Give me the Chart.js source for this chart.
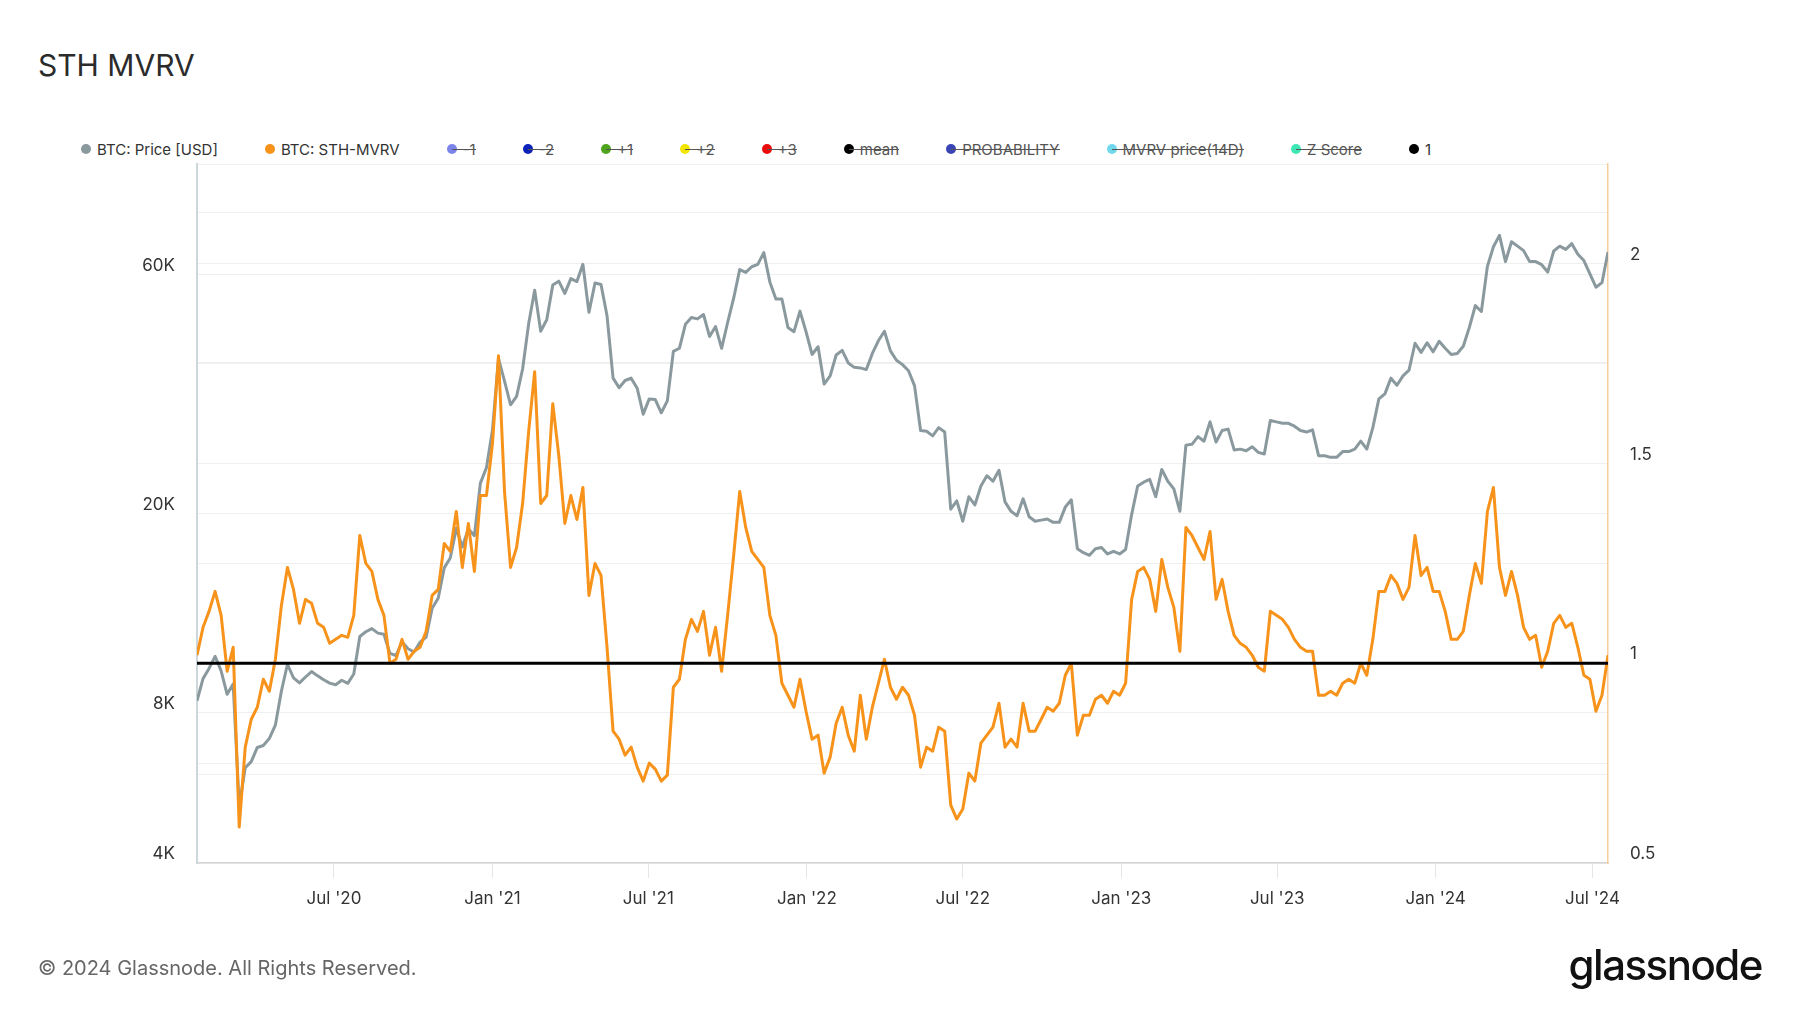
<!DOCTYPE html>
<html>
<head>
<meta charset="utf-8">
<script src="https://cdn.jsdelivr.net/npm/chart.js@4.4.1/dist/chart.umd.min.js"></script>
<style>
  html, body { margin: 0; padding: 0; background: #fff; }
  body { width: 1800px; height: 1013px; position: relative; overflow: hidden; font-family: Inter, 'Noto Sans', sans-serif; }
  #chart { position: absolute; left: 0; top: 0; }
  .title { position: absolute; left: 38px; top: 46px; font-size: 30px; line-height: 38px; color: #2b2b2b; }
  .legend { position: absolute; left: 81px; top: 139px; height: 20px; display: flex; align-items: center; font-size: 15px; color: #333; }
  .item { position: relative; display: flex; align-items: center; margin-right: 47px; white-space: nowrap; }
  .dot { width: 10px; height: 10px; border-radius: 50%; margin-right: 6px; }
  .off { color: #555; }
  .strike { position: absolute; left: 5px; right: 0; top: 50%; height: 1px; background: #555; }
  .footer { position: absolute; left: 38px; top: 955px; font-size: 20px; line-height: 26px; color: #666; }
  .logo { position: absolute; right: 38px; top: 941px; font-size: 42px; line-height: 48px; font-weight: 500; letter-spacing: -1.5px; color: #111; }
</style>
</head>
<body>
<div class="title">STH MVRV</div>
<div class="legend" id="legend"></div>
<canvas id="chart" width="1800" height="1013"></canvas>
<div class="footer">© 2024 Glassnode. All Rights Reserved.</div>
<div class="logo">glassnode</div>
<script>
// weekly samples, first one on 2020-01-24
const startDate = '2020-01-24';
const stepDays = 7;

const price = [
  8440, 9350, 9800, 10360, 9690, 8700, 9120, 5200, 6200, 6380,
  6810, 6870, 7100, 7550, 8830, 9990, 9380, 9170, 9420, 9660,
  9470, 9300, 9160, 9090, 9280, 9150, 9550, 11350, 11600, 11770,
  11530, 11470, 10500, 10400, 11080, 10730, 10570, 11060, 11320, 12930,
  13540, 15570, 16290, 18680, 17140, 18650, 18060, 23000, 24700, 29370,
  40800, 36800, 33000, 34300, 38900, 47900, 55900, 46300, 48800, 57300,
  58300, 55100, 59000, 58200, 63000, 50500, 57800, 57400, 49700, 37300,
  35700, 36900, 37300, 35600, 31600, 33900, 33800, 31800, 33600, 42200,
  42800, 47800, 49300, 49000, 50000, 45200, 47300, 42800, 48200, 53900,
  61500, 60700, 62300, 63000, 66500, 58100, 53700, 53700, 47100, 46200,
  50800, 46200, 41600, 43100, 36300, 37700, 41500, 42400, 40000, 39200,
  39100, 38800, 41800, 44300, 46300, 42300, 40500, 39700, 38600, 36000,
  29300, 29200, 28600, 29700, 29100, 20400, 21200, 19300, 21600, 20800,
  22700, 23800, 23200, 24400, 21100, 20200, 19800, 21400, 19700, 19300,
  19400, 19500, 19200, 19200, 20600, 21300, 17000, 16700, 16500, 17000,
  17100, 16600, 16800, 16600, 16950, 19900, 22700, 23100, 23400, 21600,
  24500, 23200, 22400, 20200, 27400, 27500, 28500, 27900, 30500, 27800,
  29300, 29500, 26800, 26900, 26700, 27200, 26500, 26300, 30700, 30500,
  30300, 30300, 29900, 29300, 29100, 29400, 26100, 26100, 25900, 25900,
  26600, 26600, 26900, 27900, 26900, 29700, 33900, 34700, 37300, 36100,
  37700, 38700, 43800, 42000, 43900, 42100, 44200, 42800, 41600, 41800,
  43200, 47100, 52100, 50700, 62400, 68300, 72000, 63800, 69900, 68500,
  67100, 63800, 63800, 62900, 60800, 67000, 68500, 67500, 69300, 66000,
  64100, 60300, 56700, 57900, 66700
];

const sthMvrv = [
  1.02, 1.09, 1.13, 1.18, 1.12, 0.98, 1.04, 0.59, 0.79, 0.86,
  0.89, 0.96, 0.93, 1.01, 1.145, 1.24, 1.185, 1.10, 1.16, 1.15,
  1.10, 1.09, 1.05, 1.06, 1.07, 1.065, 1.12, 1.32, 1.25, 1.23,
  1.16, 1.12, 1.00, 1.01, 1.06, 1.01, 1.03, 1.04, 1.08, 1.17,
  1.185, 1.30, 1.28, 1.38, 1.24, 1.35, 1.23, 1.42, 1.42, 1.55,
  1.77, 1.43, 1.24, 1.29, 1.40, 1.58, 1.73, 1.40, 1.42, 1.65,
  1.52, 1.35, 1.42, 1.36, 1.44, 1.17, 1.25, 1.22, 1.04, 0.83,
  0.81, 0.77, 0.79, 0.74, 0.705, 0.75, 0.735, 0.705, 0.72, 0.94,
  0.96, 1.06, 1.11, 1.08, 1.13, 1.02, 1.09, 0.98, 1.12, 1.27,
  1.43, 1.34, 1.28, 1.26, 1.24, 1.12, 1.07, 0.95, 0.92, 0.89,
  0.96, 0.88, 0.81, 0.82, 0.725, 0.765, 0.85, 0.89, 0.82, 0.78,
  0.92, 0.81, 0.89, 0.95, 1.01, 0.94, 0.91, 0.94, 0.92, 0.87,
  0.74, 0.79, 0.78, 0.84, 0.83, 0.645, 0.61, 0.635, 0.725, 0.705,
  0.80, 0.82, 0.84, 0.90, 0.79, 0.81, 0.79, 0.90, 0.83, 0.83,
  0.86, 0.89, 0.88, 0.90, 0.97, 1.00, 0.82, 0.87, 0.87, 0.91,
  0.92, 0.90, 0.93, 0.92, 0.95, 1.16, 1.23, 1.24, 1.21, 1.13,
  1.26, 1.19, 1.14, 1.03, 1.34, 1.32, 1.29, 1.26, 1.33, 1.16,
  1.21, 1.13, 1.07, 1.05, 1.04, 1.02, 0.99, 0.98, 1.13, 1.12,
  1.11, 1.09, 1.06, 1.04, 1.03, 1.03, 0.92, 0.92, 0.93, 0.92,
  0.95, 0.96, 0.95, 1.00, 0.97, 1.06, 1.18, 1.18, 1.22, 1.20,
  1.16, 1.19, 1.32, 1.22, 1.24, 1.18, 1.18, 1.13, 1.06, 1.06,
  1.08, 1.17, 1.25, 1.20, 1.38, 1.44, 1.24, 1.17, 1.23, 1.17,
  1.09, 1.06, 1.07, 0.99, 1.03, 1.10, 1.12, 1.09, 1.10, 1.04,
  0.97, 0.96, 0.88, 0.92, 1.02
];

const oneLevel = 1;

const xTickDates = ['2020-07-01', '2021-01-01', '2021-07-01', '2022-01-01', '2022-07-01',
  '2023-01-01', '2023-07-01', '2024-01-01', '2024-07-01'];
const xTickLabels = ["Jul '20", "Jan '21", "Jul '21", "Jan '22", "Jul '22",
  "Jan '23", "Jul '23", "Jan '24", "Jul '24"];

const priceGrid = [4000, 6000, 8000, 10000, 20000, 40000, 60000, 80000];
const priceTicks = [4000, 8000, 20000, 60000];
const priceTickLabels = ['4K', '8K', '20K', '60K'];

const mvrvGrid = [0.5, 0.75, 1, 1.25, 1.5, 1.75, 2, 2.25];
const mvrvTicks = [0.5, 1, 1.5, 2];
const mvrvTickLabels = ['0.5', '1', '1.5', '2'];

const legendLabels = ['BTC: Price [USD]', 'BTC: STH-MVRV', '-1', '-2', '+1', '+2', '+3', 'mean',
  'PROBABILITY', 'MVRV price(14D)', 'Z Score', '1'];
const legendColors = ['#8a999e', '#f7931a', '#7c84ec', '#0d22b8', '#4ea41d', '#f2e600', '#ec0b0b', '#000000',
  '#3a45b5', '#70d8ea', '#3ee6b5', '#000000'];
const legendHidden = [false, false, true, true, true, true, true, true, true, true, true, false];

// days counted from 2020-01-01
const dayOf = s => (Date.parse(s + 'T00:00:00Z') - Date.parse('2020-01-01T00:00:00Z')) / 864e5;
const firstDay = dayOf(startDate);
const days = price.map((v, i) => firstDay + i * stepDays);
const lastDay = days[days.length - 1];
const tickDays = xTickDates.map(dayOf);

const pricePts = price.map((v, i) => ({ x: days[i], y: v }));
const mvrvPts = sthMvrv.map((v, i) => ({ x: days[i], y: v }));
const onePts = [{ x: firstDay, y: oneLevel }, { x: lastDay, y: oneLevel }];

const legend = document.getElementById('legend');
legendLabels.forEach((name, i) => {
  const item = document.createElement('div');
  item.className = 'item' + (legendHidden[i] ? ' off' : '');
  item.innerHTML = '<span class="dot" style="background:' + legendColors[i] + '"></span><span>' + name + '</span>' +
    (legendHidden[i] ? '<span class="strike"></span>' : '');
  legend.appendChild(item);
});

const tickFont = { family: 'Inter', size: 17 };

new Chart(document.getElementById('chart'), {
  type: 'line',
  data: {
    datasets: [
      { label: '1', data: onePts, yAxisID: 'yMvrv', borderColor: '#000', borderWidth: 3 },
      { label: 'BTC: STH-MVRV', data: mvrvPts, yAxisID: 'yMvrv', borderColor: '#f7931a', borderWidth: 3 },
      { label: 'BTC: Price [USD]', data: pricePts, yAxisID: 'yPrice', borderColor: '#8a999e', borderWidth: 3 }
    ]
  },
  options: {
    responsive: false,
    animation: false,
    devicePixelRatio: 1,
    layout: { padding: { top: 164, left: 0, right: 0, bottom: 0 } },
    elements: { point: { radius: 0 }, line: { tension: 0, borderJoinStyle: 'round' } },
    plugins: { legend: { display: false }, tooltip: { enabled: false } },
    scales: {
      x: {
        type: 'linear',
        min: firstDay,
        max: lastDay,
        afterFit: s => { s.height = 150; },
        afterBuildTicks: s => { s.ticks = tickDays.map(v => ({ value: v })); },
        grid: { drawOnChartArea: false, drawTicks: true, tickLength: 15, color: '#e6e6e6' },
        border: { color: '#d4d4d4', width: 1.5 },
        ticks: {
          autoSkip: false, maxRotation: 0, padding: 11, color: '#333', font: tickFont,
          callback: v => xTickLabels[tickDays.indexOf(v)] || ''
        }
      },
      yPrice: {
        type: 'logarithmic',
        position: 'left',
        min: 4000,
        max: 100000,
        afterFit: s => { s.width = 197; },
        afterBuildTicks: s => { s.ticks = priceGrid.map(v => ({ value: v })); },
        grid: { color: '#efefef', drawTicks: false },
        border: { color: '#ccd6db', width: 2 },
        ticks: {
          padding: 22, labelOffset: -9, color: '#333', font: tickFont,
          callback: v => priceTickLabels[priceTicks.indexOf(v)] || ''
        }
      },
      yMvrv: {
        type: 'linear',
        position: 'right',
        min: 0.5,
        max: 2.25,
        afterFit: s => { s.width = 192; },
        afterBuildTicks: s => { s.ticks = mvrvGrid.map(v => ({ value: v })); },
        grid: { color: '#efefef', drawTicks: false },
        border: { color: '#f8cf9c', width: 1.5 },
        ticks: {
          padding: 22, labelOffset: -9, color: '#333', font: tickFont,
          callback: v => mvrvTickLabels[mvrvTicks.indexOf(v)] || ''
        }
      }
    }
  }
});
</script>
</body>
</html>
